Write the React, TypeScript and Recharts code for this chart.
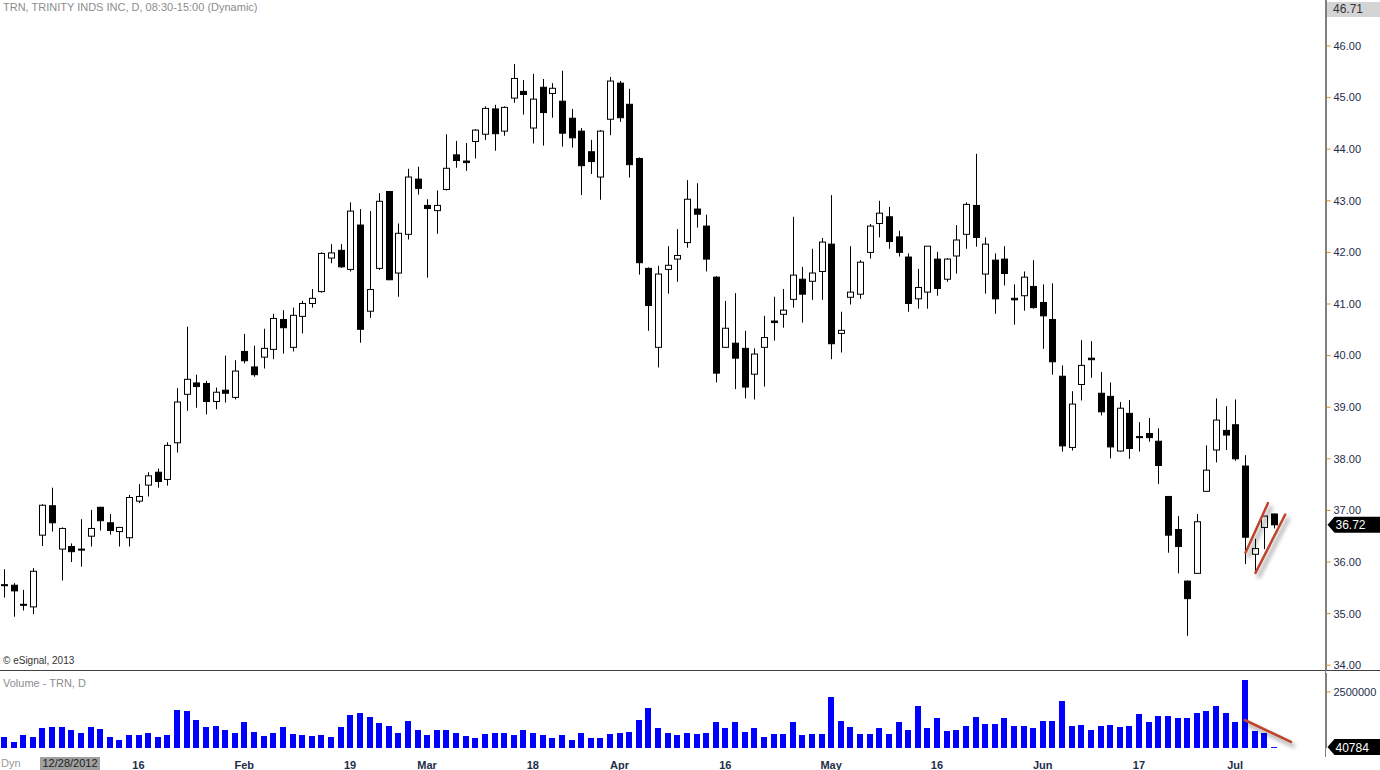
import React from 'react';
import { ComposedChart, Bar, XAxis, YAxis, ReferenceLine } from 'recharts';

// daily OHLC, Dec 26 2012 .. Jul 8 2013
const opens = [
  35.56, 35.55, 35.18, 35.13, 36.52, 37.09, 36.25, 36.30, 36.25, 36.50,
  37.06, 36.76, 36.59, 36.47, 37.18, 37.49, 37.74, 37.60, 38.31, 39.25,
  39.47, 39.46, 39.11, 39.33, 39.19, 40.08, 39.78, 39.97, 40.12, 40.70,
  40.16, 40.76, 41.01, 41.24, 41.89, 42.04, 41.67, 42.53, 40.86, 41.69,
  43.18, 41.60, 42.35, 43.42, 42.91, 42.81, 43.22, 43.89, 43.77, 44.15,
  44.29, 44.78, 44.35, 44.99, 45.12, 44.41, 45.20, 45.08, 44.93, 44.60,
  44.35, 43.95, 43.46, 44.58, 45.28, 44.87, 43.82, 41.69, 40.16, 41.67,
  41.87, 42.19, 42.84, 42.51, 41.52, 40.16, 40.24, 40.14, 39.64, 40.16,
  40.67, 40.80, 41.09, 41.48, 41.44, 41.63, 42.16, 40.43, 41.13, 41.19,
  42.00, 42.56, 42.69, 42.30, 41.91, 41.10, 41.23, 41.87, 41.48, 41.93,
  42.35, 42.91, 41.58, 41.85, 41.87, 41.11, 41.16, 41.34, 41.03, 40.70,
  39.60, 38.22, 39.44, 39.95, 39.27, 39.21, 38.15, 38.88, 38.43, 38.49,
  38.34, 37.27, 36.63, 35.63, 35.78, 37.37, 38.17, 38.55, 38.66, 37.86,
  36.15, 36.67, 36.93,
];
const highs = [
  35.86, 35.59, 35.46, 35.88, 37.12, 37.44, 36.67, 36.36, 36.83, 37.01,
  37.07, 36.93, 36.68, 37.30, 37.51, 37.74, 37.81, 38.32, 39.37, 40.56,
  39.63, 39.51, 39.38, 40.00, 39.91, 40.42, 40.19, 40.52, 40.81, 40.88,
  40.93, 41.06, 41.29, 42.00, 42.16, 42.16, 42.97, 42.84, 42.80, 43.15,
  43.19, 42.56, 43.62, 43.66, 43.03, 43.20, 44.29, 44.16, 44.12, 44.39,
  44.83, 44.86, 44.83, 45.65, 45.34, 45.46, 45.36, 45.28, 45.52, 44.78,
  44.41, 44.18, 44.37, 45.40, 45.32, 45.17, 43.84, 41.71, 41.74, 42.12,
  42.45, 43.40, 43.34, 42.73, 41.54, 41.06, 41.21, 40.48, 40.14, 40.77,
  41.14, 41.29, 42.69, 41.72, 42.07, 42.28, 43.11, 40.85, 42.12, 41.85,
  42.55, 43.00, 42.88, 42.42, 41.98, 41.68, 42.12, 42.01, 41.89, 42.53,
  42.97, 43.91, 42.29, 41.98, 42.12, 41.38, 41.63, 41.85, 41.38, 41.40,
  39.81, 39.31, 40.30, 40.28, 39.68, 39.48, 39.10, 39.14, 38.71, 38.79,
  38.59, 37.28, 36.89, 35.64, 36.93, 38.26, 39.17, 39.02, 39.15, 38.07,
  36.45, 36.89, 36.94,
];
const lows = [
  35.31, 34.94, 35.06, 34.99, 36.31, 36.59, 35.64, 36.00, 35.91, 36.30,
  36.61, 36.53, 36.30, 36.30, 37.14, 37.27, 37.44, 37.48, 38.12, 38.93,
  38.99, 38.86, 38.96, 39.09, 39.15, 39.85, 39.59, 39.75, 39.93, 40.04,
  40.08, 40.43, 40.93, 41.22, 41.79, 41.70, 41.63, 40.25, 40.73, 41.66,
  41.46, 41.14, 42.25, 43.12, 41.51, 42.36, 43.20, 43.64, 43.58, 43.82,
  44.18, 43.97, 44.26, 44.90, 44.67, 44.11, 44.07, 44.61, 44.05, 44.03,
  43.11, 43.52, 43.02, 44.27, 44.53, 43.45, 41.57, 40.48, 39.77, 41.20,
  41.43, 42.09, 42.48, 41.63, 39.48, 40.15, 39.35, 39.17, 39.15, 39.40,
  40.29, 40.54, 40.93, 40.64, 41.08, 41.08, 39.93, 40.06, 40.99, 41.10,
  41.88, 42.29, 42.07, 41.92, 40.85, 40.91, 40.91, 41.16, 41.43, 41.59,
  42.07, 42.11, 41.20, 40.81, 41.36, 40.60, 40.87, 40.91, 40.13, 39.63,
  38.14, 38.16, 39.13, 39.57, 38.84, 38.01, 38.14, 38.00, 38.14, 38.33,
  37.51, 36.18, 35.78, 34.57, 35.77, 37.36, 37.93, 38.17, 37.96, 35.96,
  35.79, 36.25, 36.65,
];
const closes = [
  35.55, 35.44, 35.17, 35.82, 37.10, 36.76, 36.65, 36.20, 36.24, 36.65,
  36.80, 36.61, 36.67, 37.25, 37.27, 37.67, 37.56, 38.26, 39.10, 39.54,
  39.40, 39.11, 39.29, 39.27, 39.70, 39.90, 39.63, 40.14, 40.72, 40.54,
  40.78, 41.01, 41.11, 41.98, 41.99, 41.72, 42.80, 40.51, 41.28, 42.99,
  41.47, 42.37, 43.46, 43.24, 42.85, 42.91, 43.63, 43.78, 43.74, 44.37,
  44.79, 44.30, 44.81, 45.37, 45.06, 44.97, 44.71, 45.18, 44.31, 44.22,
  43.68, 43.76, 44.35, 45.32, 44.61, 43.70, 41.80, 40.97, 41.58, 41.75,
  41.94, 43.03, 42.74, 41.87, 39.66, 40.53, 39.95, 39.39, 40.03, 40.35,
  40.64, 40.88, 41.56, 41.19, 41.60, 42.20, 40.23, 40.49, 41.23, 41.81,
  42.51, 42.76, 42.21, 42.00, 41.01, 41.32, 42.12, 41.30, 41.87, 42.24,
  42.93, 42.29, 42.16, 41.10, 41.59, 41.08, 41.52, 40.93, 40.77, 39.88,
  38.25, 39.06, 39.81, 39.92, 38.91, 38.23, 38.98, 38.20, 38.41, 38.41,
  37.87, 36.52, 36.30, 35.29, 36.78, 37.78, 38.75, 38.46, 38.00, 36.48,
  36.26, 36.89, 36.72,
];
const volumes = [
  491000, 268000, 580000, 491000, 893000, 938000, 938000, 804000, 670000, 938000,
  848000, 491000, 357000, 580000, 580000, 670000, 491000, 580000, 1696000, 1652000,
  1250000, 938000, 982000, 804000, 670000, 1161000, 714000, 536000, 670000, 938000,
  625000, 580000, 536000, 580000, 491000, 938000, 1473000, 1563000, 1384000, 1116000,
  982000, 670000, 1205000, 804000, 580000, 804000, 804000, 670000, 536000, 446000,
  625000, 670000, 670000, 580000, 804000, 670000, 580000, 446000, 580000, 357000,
  670000, 446000, 446000, 625000, 670000, 714000, 1250000, 1786000, 893000, 670000,
  580000, 670000, 625000, 670000, 1161000, 893000, 1161000, 714000, 893000, 491000,
  625000, 625000, 1161000, 580000, 625000, 625000, 2277000, 1205000, 938000, 625000,
  625000, 893000, 625000, 1161000, 804000, 1875000, 893000, 1339000, 759000, 804000,
  982000, 1384000, 1071000, 1071000, 1339000, 982000, 982000, 893000, 1205000, 1205000,
  2098000, 982000, 1027000, 804000, 982000, 1027000, 938000, 982000, 1518000, 1161000,
  1429000, 1429000, 1339000, 1339000, 1563000, 1652000, 1875000, 1563000, 1161000, 3036000,
  759000, 670000, 40784,
];

const tickIdx = [14, 25, 36, 44, 55, 64, 75, 86, 97, 108, 118, 128];
const tickText = ['16', 'Feb', '19', 'Mar', '18', 'Apr', '16', 'May', '16', 'Jun', '17', 'Jul'];
const priceTicks = [34, 35, 36, 37, 38, 39, 40, 41, 42, 43, 44, 45, 46];
const volTicks = [2500000];

// hand-drawn channel lines (bar index, price / volume)
const channelA = [{ x: 129.08, y: 36.18 }, { x: 131.41, y: 37.14 }];
const channelB = [{ x: 130.12, y: 35.79 }, { x: 133.21, y: 36.92 }];
const volLine = [{ x: 129.0, y: 1250000 }, { x: 133.8, y: 270000 }];

const SLOTS = 138; // bars plus empty space on the right
const rows = Array.from({ length: SLOTS }, (_, i) =>
  i < opens.length
    ? {
        i,
        open: opens[i],
        high: highs[i],
        low: lows[i],
        close: closes[i],
        range: [lows[i], highs[i]],
        vol: volumes[i],
      }
    : { i }
);

const FONT = 'Arial, "Liberation Sans", sans-serif';
const RED = '#c0442c';

const Candle = (props: any) => {
  const { x, y, width, height, payload } = props;
  if (payload == null || payload.open == null) return null;
  const top = Math.min(y, y + height);
  const h = Math.abs(height);
  const span = payload.high - payload.low || 1;
  const py = (p: number) => top + ((payload.high - p) / span) * h;
  const cx = Math.round(x + width / 2) + 0.5;
  const up = payload.close >= payload.open;
  const yo = py(payload.open);
  const yc = py(payload.close);
  const bt = Math.min(yo, yc);
  const bb = Math.max(yo, yc);
  return (
    <g>
      <line x1={cx} x2={cx} y1={top} y2={top + h} stroke="#000" strokeWidth={1} />
      <rect
        x={cx - 3}
        y={bt}
        width={6}
        height={Math.max(bb - bt, 1)}
        fill={up ? '#fff' : '#000'}
        stroke="#000"
        strokeWidth={1}
      />
    </g>
  );
};

const VolBar = (props: any) => {
  const { x, y, width, height } = props;
  if (!height) return null;
  const cx = Math.round(x + width / 2);
  return <rect x={cx - 3} y={y} width={6} height={height} fill="#0000ff" />;
};

const ShadowLine = (p: any) => (
  <line
    x1={p.x1}
    y1={p.y1}
    x2={p.x2}
    y2={p.y2}
    stroke={RED}
    strokeWidth={2.5}
    strokeLinecap="round"
    style={{ filter: 'drop-shadow(3px 4px 2px rgba(0,0,0,0.45))' }}
  />
);

const Tag = ({ viewBox, text }: any) => {
  if (!viewBox) return null;
  const x = viewBox.x + viewBox.width;
  const y = viewBox.y;
  return (
    <g>
      <path
        d={`M${x + 1},${y} L${x + 8},${y - 8} L${x + 56},${y - 8} L${x + 56},${y + 8} L${x + 8},${y + 8} Z`}
        fill="#000"
      />
      <text x={x + 9} y={y + 4.5} fill="#fff" fontSize={12} fontFamily={FONT}>
        {text}
      </text>
    </g>
  );
};

const tickLabel = (v: number) => {
  const k = tickIdx.indexOf(v);
  return k >= 0 ? tickText[k] : '';
};

export default function App() {
  const axisTick = { fill: '#1e2d4a', fontSize: 11, fontFamily: FONT };
  return (
    <div
      style={{
        position: 'absolute',
        left: 0,
        top: 0,
        width: 1380,
        height: 770,
        background: '#fff',
        overflow: 'hidden',
        fontFamily: FONT,
      }}
    >
      <div style={{ position: 'absolute', left: -1.5, top: 0 }}>
        <ComposedChart width={1381.5} height={670} data={rows} margin={{ top: 0, right: 0, left: 0, bottom: 0 }}>
          <XAxis dataKey="i" type="category" hide />
          <XAxis xAxisId="n" dataKey="i" type="number" domain={[-0.5, SLOTS - 0.5]} allowDataOverflow hide />
          <YAxis
            orientation="right"
            width={54}
            domain={[33.907, 46.891]}
            allowDataOverflow
            ticks={priceTicks}
            interval={0}
            tickFormatter={(v: number) => v.toFixed(2)}
            tick={axisTick}
            tickLine={{ stroke: '#e08a1e' }}
            tickSize={4}
            tickMargin={3}
            axisLine={{ stroke: '#7f7f7f' }}
          />
          <Bar dataKey="range" shape={<Candle />} isAnimationActive={false} />
          <ReferenceLine xAxisId="n" segment={channelA} ifOverflow="visible" shape={ShadowLine} />
          <ReferenceLine xAxisId="n" segment={channelB} ifOverflow="visible" shape={ShadowLine} />
          <ReferenceLine
            y={closes[closes.length - 1]}
            stroke="none"
            ifOverflow="visible"
            label={<Tag text={closes[closes.length - 1].toFixed(2)} />}
          />
        </ComposedChart>
      </div>

      <div style={{ position: 'absolute', left: -1.5, top: 671 }}>
        <ComposedChart width={1381.5} height={99} data={rows} margin={{ top: 2, right: 0, left: 0, bottom: 0 }}>
          <XAxis
            dataKey="i"
            type="category"
            ticks={tickIdx}
            interval={0}
            tickFormatter={tickLabel}
            tick={{ fill: '#1e2d4a', fontSize: 11, fontFamily: FONT, fontWeight: 'bold' }}
            tickLine={false}
            axisLine={false}
            height={22}
            tickMargin={7}
          />
          <XAxis xAxisId="n" dataKey="i" type="number" domain={[-0.5, SLOTS - 0.5]} allowDataOverflow hide />
          <YAxis
            orientation="right"
            width={54}
            domain={[0, 3348000]}
            allowDataOverflow
            ticks={volTicks}
            interval={0}
            tick={axisTick}
            tickLine={{ stroke: '#e08a1e' }}
            tickSize={4}
            tickMargin={3}
            axisLine={{ stroke: '#7f7f7f' }}
          />
          <Bar dataKey="vol" shape={<VolBar />} isAnimationActive={false} />
          <ReferenceLine xAxisId="n" segment={volLine} ifOverflow="visible" shape={ShadowLine} />
          <ReferenceLine
            y={volumes[volumes.length - 1]}
            stroke="none"
            ifOverflow="visible"
            label={<Tag text={String(volumes[volumes.length - 1])} />}
          />
        </ComposedChart>
      </div>

      {/* pane separator and axis line */}
      <div style={{ position: 'absolute', left: 0, top: 670, width: 1380, height: 1, background: '#404040' }} />
      <div style={{ position: 'absolute', left: 1325, top: 0, width: 1, height: 757, background: '#7f7f7f' }} />

      <div style={{ position: 'absolute', left: 3, top: 1, fontSize: 11, color: '#8c8c8c' }}>
        TRN, TRINITY INDS INC, D, 08:30-15:00 (Dynamic)
      </div>
      <div style={{ position: 'absolute', left: 3, top: 655, fontSize: 10, color: '#333' }}>© eSignal, 2013</div>
      <div style={{ position: 'absolute', left: 3, top: 677, fontSize: 11, color: '#8c8c8c' }}>Volume - TRN, D</div>
      <div
        style={{
          position: 'absolute',
          left: 1327,
          top: 2,
          width: 53,
          height: 15,
          background: '#d4d4d4',
          fontSize: 12,
          color: '#333',
          lineHeight: '15px',
          paddingLeft: 6,
          boxSizing: 'border-box',
        }}
      >
        46.71
      </div>
      <div style={{ position: 'absolute', left: 1, top: 757, fontSize: 11, color: '#9a9a9a' }}>Dyn</div>
      <div
        style={{
          position: 'absolute',
          left: 40,
          top: 757,
          width: 60,
          height: 13,
          background: '#a0a0a0',
          fontSize: 11,
          lineHeight: '13px',
          color: '#202020',
          textAlign: 'center',
        }}
      >
        12/28/2012
      </div>
    </div>
  );
}
